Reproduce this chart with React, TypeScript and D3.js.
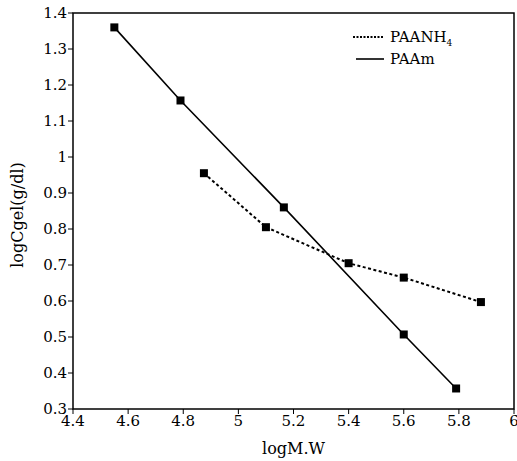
import React from "react";
import * as d3 from "d3";

const paanh4X = [4.875, 5.1, 5.4, 5.6, 5.88];
const paanh4Y = [0.955, 0.805, 0.705, 0.665, 0.597];
const paamX = [4.55, 4.79, 5.165, 5.6, 5.79];
const paamY = [1.36, 1.157, 0.86, 0.507, 0.357];
const xTicks = [4.4, 4.6, 4.8, 5, 5.2, 5.4, 5.6, 5.8, 6];
const yTicks = [0.3, 0.4, 0.5, 0.6, 0.7, 0.8, 0.9, 1, 1.1, 1.2, 1.3, 1.4];

const W = 517, H = 461;
const L = 73, R = 514, T = 13, B = 409;
const FONT = "'DejaVu Serif', 'Liberation Serif', serif";

export default function App() {
  const x = d3.scaleLinear().domain([4.4, 6]).range([L, R]);
  const y = d3.scaleLinear().domain([0.3, 1.4]).range([B, T]);
  const mk = (xs: number[], ys: number[]) =>
    d3.line<number>().x((d) => x(d)).y((_, i) => y(ys[i]))(xs) || "";
  const fmt = (v: number) => (Number.isInteger(v) ? String(v) : v.toFixed(1));
  return (
    <svg width={W} height={H} style={{ position: "absolute", left: 0, top: 0, background: "#fff" }}>
      <rect x={L} y={T} width={R - L} height={B - T} fill="none" stroke="#000" strokeWidth={1.5} />
      {xTicks.map((t) => (
        <g key={"x" + t}>
          <line x1={x(t)} x2={x(t)} y1={B} y2={B + 5} stroke="#000" strokeWidth={1} />
          <text x={x(t)} y={426} textAnchor="middle" fontFamily={FONT} fontSize={15}>{fmt(t)}</text>
        </g>
      ))}
      {yTicks.map((t) => (
        <g key={"y" + t}>
          <line x1={L - 5} x2={L} y1={y(t)} y2={y(t)} stroke="#000" strokeWidth={1} />
          <text x={67} y={y(t)} dy="0.35em" textAnchor="end" fontFamily={FONT} fontSize={15}>{fmt(t)}</text>
        </g>
      ))}
      <text x={(L + R) / 2} y={454} textAnchor="middle" fontFamily={FONT} fontSize={16}>logM.W</text>
      <text transform={`translate(23,${(T + B) / 2 + 4}) rotate(-90)`} textAnchor="middle" fontFamily={FONT} fontSize={16}>logCgel(g/dl)</text>

      <path d={mk(paamX, paamY)} fill="none" stroke="#000" strokeWidth={1.6} />
      <path d={mk(paanh4X, paanh4Y)} fill="none" stroke="#000" strokeWidth={2} strokeDasharray="3,2.5" />
      {paamX.map((v, i) => (
        <rect key={"a" + i} x={x(v) - 4} y={y(paamY[i]) - 4} width={8} height={8} fill="#000" />
      ))}
      {paanh4X.map((v, i) => (
        <rect key={"b" + i} x={x(v) - 4} y={y(paanh4Y[i]) - 4} width={8} height={8} fill="#000" />
      ))}

      <line x1={353} x2={384} y1={37} y2={37} stroke="#000" strokeWidth={2} strokeDasharray="2,1.5" />
      <text x={390} y={37} dy="0.35em" fontFamily={FONT} fontSize={15}>
        PAANH<tspan fontSize={9} dy="4">4</tspan>
      </text>
      <line x1={356} x2={384} y1={59} y2={59} stroke="#000" strokeWidth={1.6} />
      <text x={390} y={59} dy="0.35em" fontFamily={FONT} fontSize={15}>PAAm</text>
    </svg>
  );
}
